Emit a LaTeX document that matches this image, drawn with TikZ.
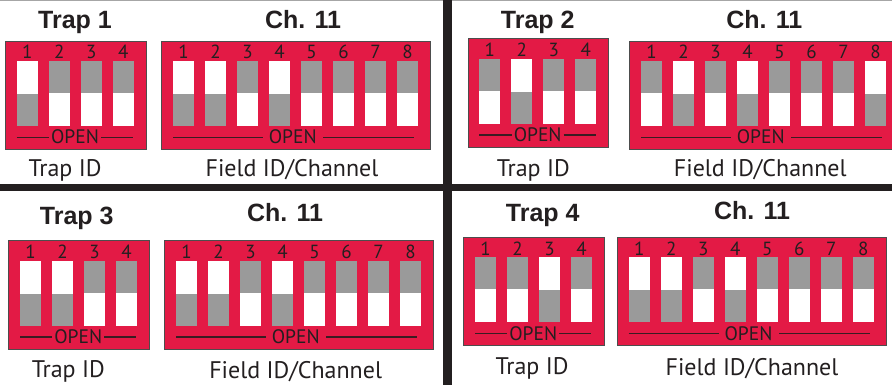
\documentclass[tikz,border=0pt]{standalone}
\usepackage{fontspec}
\setmainfont{PT Sans}
\newfontfamily\headfont{Liberation Sans}
\definecolor{dipred}{HTML}{E31A45}
\definecolor{dipgray}{HTML}{9A9A9A}
\definecolor{dipedge}{HTML}{4D4D4D}
\definecolor{txt}{HTML}{231F20}
\definecolor{openline}{HTML}{3A1C22}
\definecolor{divider}{HTML}{231F20}
\tikzset{
  titletext/.style={font=\headfont\bfseries\fontsize{25}{25}\selectfont, text=txt, anchor=base, inner sep=0pt},
  captext/.style={font=\fontsize{24}{24}\selectfont, text=txt, anchor=base, inner sep=0pt},
  numtext/.style={font=\fontsize{19}{19}\selectfont, text=txt, anchor=base, inner sep=0pt},
  opentext/.style={font=\fontsize{19.5}{19.5}\selectfont, text=txt, anchor=base, inner sep=0pt},
  dipbox/.style={draw=dipedge, line width=1pt, fill=dipred, inner sep=0pt, anchor=north west},
  openrule/.style={draw=openline, line width=1.3pt},
}
\newcommand\dipunit[5]{% #1 name, #2 x, #3 y, #4 count, #5 states (1 = gray on top)
  \begin{scope}[shift={(#2,#3)}]
    \pgfmathsetmacro\bw{23.7+(#4-1)*32+21}
    \node[dipbox, minimum width=\bw pt, minimum height=108.3pt] (#1) at (0,0) {};
    \foreach \s [count=\i from 0] in {#5} {
      \pgfmathsetmacro\sx{11.7+\i*32}
      \node[numtext] (#1-n\i) at (\sx+10.5,18) {\the\numexpr\i+1\relax};
      \fill[white] (\sx,20.3) rectangle ++(21,65);
      \ifnum\s=1
        \fill[dipgray] (\sx,20.3) rectangle ++(21,32);
      \else
        \fill[dipgray] (\sx,53.3) rectangle ++(21,32);
      \fi
    }
    \ifnum#4=4
      \def\ox{70}\def\la{44}\def\rb{96}\def\re{128}
    \else
      \def\ox{131.5}\def\la{101.7}\def\rb{162}\def\re{253}
    \fi
    \node[opentext] (#1-open) at (\ox,103) {OPEN};
    \coordinate (#1-a) at (11.7,96.6);
    \coordinate (#1-b) at (\la,96.6);
    \coordinate (#1-c) at (\rb,96.6);
    \coordinate (#1-d) at (\re,96.6);
    \draw[openrule] (#1-a) -- (#1-b);
    \draw[openrule] (#1-c) -- (#1-d);
  \end{scope}
}
\begin{document}
\begin{tikzpicture}[x=1pt,y=-1pt]
  \useasboundingbox (0,0) rectangle (892,385);
  \clip (0,0) rectangle (892,385);
  \fill[white] (0,0) rectangle (892,385);
  \fill[gray!70] (0,0) rectangle (892,1.5);

  % top left
  \dipunit{t1}{5}{40.7}{4}{0,1,1,1}
  \dipunit{c1}{161.3}{40.7}{8}{0,0,1,0,1,1,1,1}
  \node[titletext] (t1title) at (75,28.3) {Trap 1};
  \node[titletext] (c1title) at (303,28.3) {Ch. 11};
  \node[captext] (t1cap) at (65,177) {Trap ID};
  \node[captext] (c1cap) at (292,177) {Field ID/Channel};

  % top right
  \dipunit{t2}{467.7}{38.3}{4}{1,0,1,1}
  \dipunit{c2}{629.3}{40.7}{8}{1,0,1,0,1,1,1,0}
  \node[titletext] (t2title) at (537.7,28.3) {Trap 2};
  \node[titletext] (c2title) at (764.3,28.3) {Ch. 11};
  \node[captext] (t2cap) at (533.3,176.7) {Trap ID};
  \node[captext] (c2cap) at (760.3,176.7) {Field ID/Channel};

  % bottom left
  \dipunit{t3}{8.3}{240.3}{4}{0,0,1,1}
  \dipunit{c3}{164.3}{240.3}{8}{0,0,1,0,1,1,1,1}
  \node[titletext] (t3title) at (76.7,224.3) {Trap 3};
  \node[titletext] (c3title) at (285,222) {Ch. 11};
  \node[captext] (t3cap) at (68.3,377) {Trap ID};
  \node[captext] (c3cap) at (295.7,378) {Field ID/Channel};

  % bottom right
  \dipunit{t4}{463.3}{237}{4}{1,1,0,1}
  \dipunit{c4}{617}{237}{8}{0,0,1,0,1,1,1,1}
  \node[titletext] (t4title) at (542.7,221.3) {Trap 4};
  \node[titletext] (c4title) at (752,219.7) {Ch. 11};
  \node[captext] (t4cap) at (532,374.7) {Trap ID};
  \node[captext] (c4cap) at (752,375) {Field ID/Channel};

  % dividers
  \fill[divider] (0,184) rectangle (892,191);
  \fill[divider] (443,0) rectangle (452,385);
\end{tikzpicture}
\end{document}
